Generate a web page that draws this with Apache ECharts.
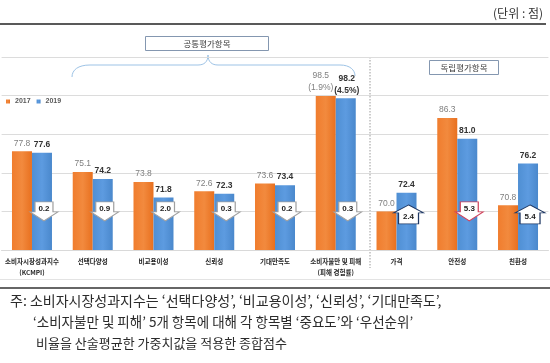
<!DOCTYPE html>
<html><head><meta charset="utf-8">
<script src="https://cdn.jsdelivr.net/npm/echarts@6/dist/echarts.min.js"></script>
<style>html,body{margin:0;padding:0;background:#fff}#c{width:550px;height:363px}</style>
</head><body><div id="c"></div>
<script>
// ---- data ----
const categories = ['소비자시장성과지수\n(KCMPI)', '선택다양성', '비교용이성', '신뢰성', '기대만족도', '소비자불만 및 피해\n(피해 경험률)', '가격', '안전성', '친환성'];
const seriesNames = ['2017', '2019'];
const values2017 = [77.8, 75.1, 73.8, 72.6, 73.6, 98.5, 70.0, 86.3, 70.8];
const values2019 = [77.6, 74.2, 71.8, 72.3, 73.4, 98.2, 72.4, 81.0, 76.2];
const damageRate2017 = [null, null, null, null, null, '1.9%', null, null, null];
const damageRate2019 = [null, null, null, null, null, '4.5%', null, null, null];
const changes = [0.2, 0.9, 2.0, 0.3, 0.2, 0.3, 2.4, 5.3, 5.4];
const directions = ['down', 'down', 'down', 'down', 'down', 'down', 'up', 'down', 'up'];
const groupTitles = ['공통평가항목', '독립평가항목'];
const unitText = '(단위 : 점)';
const noteLines = [
  '주: 소비자시장성과지수는 ‘선택다양성’, ‘비교용이성’, ‘신뢰성’, ‘기대만족도’,',
  '‘소비자불만 및 피해’ 5개 항목에 대해 각 항목별 ‘중요도’와 ‘우선순위’',
  '비율을 산술평균한 가중치값을 적용한 종합점수'
];

// ---- chart ----
const KR = '"Noto Sans CJK KR", sans-serif';
const NUM = '"Liberation Sans", Arial, sans-serif';
const chart = echarts.init(document.getElementById('c'), null, {renderer: 'canvas'});

const downPath = 'path://M5,0 L23,0 L23,10 L28,10 L14,19 L0,10 L5,10 Z';
const upPath = 'path://M15,0 L30,8 L25,8 L25,19 L5,19 L5,8 L0,8 Z';
const arrowBorder = (i) => directions[i] === 'up' ? '#1f3864' : (changes[i] >= 5 ? '#d0405a' : '#a0a0a0');

const arrowData = changes.map((c, i) => ({
  value: [i, 70, c],
  symbol: directions[i] === 'up' ? upPath : downPath,
  symbolSize: directions[i] === 'up' ? [30, 19] : [28, 19],
  symbolOffset: directions[i] === 'up' ? [12, 3] : [12, 0],
  itemStyle: {color: '#ffffff', opacity: 1, borderColor: arrowBorder(i), borderWidth: 1},
  label: {offset: directions[i] === 'up' ? [0, 2] : [0, -3]}
}));

const barData = (vals, rates, dx) => vals.map((v, i) => rates[i] ? {value: v, label: {offset: [dx, 0]}} : v);
const labelFmt = (rates) => (p) => rates[p.dataIndex] ? p.value.toFixed(1) + '\n(' + rates[p.dataIndex] + ')' : p.value.toFixed(1);

const braceStyle = {stroke: '#9dc3e6', fill: null, lineWidth: 1};
const option = {
  animation: false,
  backgroundColor: '#ffffff',
  legend: {
    data: seriesNames, left: 6, top: 98, icon: 'rect', itemWidth: 4, itemHeight: 4, itemGap: 6, padding: 0,
    textStyle: {fontSize: 7, fontWeight: 'bold', color: '#595959', fontFamily: NUM}
  },
  grid: {left: 1.6, right: 1.6, top: 57, bottom: 113, containLabel: false},
  xAxis: {
    type: 'category', data: categories,
    axisLine: {show: true, lineStyle: {color: '#d9d9d9'}},
    axisTick: {show: false},
    axisLabel: {interval: 0, margin: 6, fontSize: 6.5, fontWeight: 'bold', color: '#262626', lineHeight: 11, fontFamily: KR}
  },
  yAxis: [
    {
      type: 'value', min: 65, max: 103.55,
      axisLine: {show: false}, axisTick: {show: false}, axisLabel: {show: false}, splitLine: {show: false},
      breaks: [{start: 78, end: 86, gap: 3.8}, {start: 86.5, end: 97.5, gap: 1.65}],
      breakArea: {show: false}
    },
    {
      type: 'value', min: 65, max: 90, interval: 5, position: 'left',
      axisLine: {show: false}, axisTick: {show: false}, axisLabel: {show: false},
      splitLine: {show: true, lineStyle: {color: '#dcdcdc', width: 1}}
    }
  ],
  series: [
    {
      name: seriesNames[0], type: 'bar', data: barData(values2017, damageRate2017, -5), barWidth: 20, barGap: '0%', yAxisIndex: 0,
      itemStyle: {color: new echarts.graphic.LinearGradient(0, 0, 1, 0, [{offset: 0, color: '#f07d2e'}, {offset: 0.5, color: '#f28a3e'}, {offset: 1, color: '#e8701f'}])},
      label: {show: true, position: 'top', distance: 2, fontSize: 8.5, color: '#7f7f7f', fontFamily: NUM, lineHeight: 12,
        formatter: labelFmt(damageRate2017)}
    },
    {
      name: seriesNames[1], type: 'bar', data: barData(values2019, damageRate2019, 1), barWidth: 20, yAxisIndex: 0, z: 3,
      itemStyle: {color: new echarts.graphic.LinearGradient(0, 0, 1, 0, [{offset: 0, color: '#4f8fd3'}, {offset: 0.5, color: '#5d9be0'}, {offset: 1, color: '#4a88cc'}])},
      label: {show: true, position: 'top', distance: 2, fontSize: 8.5, fontWeight: 'bold', color: '#333333', fontFamily: NUM, lineHeight: 12,
        formatter: labelFmt(damageRate2019)}
    },
    {
      name: 'change', type: 'scatter', yAxisIndex: 1, z: 5, data: arrowData,
      label: {show: true, position: 'inside', fontSize: 8, fontWeight: 'bold', color: '#222', fontFamily: NUM,
        formatter: (p) => p.value[2].toFixed(1)}
    }
  ],
  graphic: [
    {type: 'text', x: 543, y: 13, style: {text: unitText, font: '12px ' + KR, fill: '#333', align: 'right', verticalAlign: 'middle'}},
    {type: 'line', shape: {x1: 0, y1: 24, x2: 546, y2: 24}, style: {stroke: '#222', lineWidth: 1.5}},
    {type: 'line', shape: {x1: 0, y1: 279.5, x2: 550, y2: 279.5}, style: {stroke: '#e3e3e3', lineWidth: 1}},
    {type: 'line', shape: {x1: 0, y1: 288, x2: 550, y2: 288}, style: {stroke: '#333', lineWidth: 1.5}},
    {type: 'line', shape: {x1: 370, y1: 57, x2: 370, y2: 268}, style: {stroke: '#9a9a9a', lineWidth: 1, lineDash: [1.5, 1.5]}},
    {type: 'bezierCurve', shape: {x1: 72, y1: 77, cpx1: 72, cpy1: 70, cpx2: 78, cpy2: 65, x2: 90, y2: 65}, style: braceStyle},
    {type: 'line', shape: {x1: 90, y1: 65, x2: 198, y2: 65}, style: braceStyle},
    {type: 'bezierCurve', shape: {x1: 198, y1: 65, cpx1: 204, cpy1: 65, cpx2: 208, cpy2: 62, x2: 208, y2: 55}, style: braceStyle},
    {type: 'bezierCurve', shape: {x1: 208, y1: 55, cpx1: 208, cpy1: 62, cpx2: 212, cpy2: 65, x2: 218, y2: 65}, style: braceStyle},
    {type: 'line', shape: {x1: 218, y1: 65, x2: 340, y2: 65}, style: braceStyle},
    {type: 'bezierCurve', shape: {x1: 340, y1: 65, cpx1: 350, cpy1: 65, cpx2: 355, cpy2: 70, x2: 355, y2: 76}, style: braceStyle},
    {type: 'rect', shape: {x: 145.5, y: 36.5, width: 123, height: 14}, style: {stroke: '#8497b0', fill: '#fff', lineWidth: 1}},
    {type: 'text', x: 207, y: 43.5, style: {text: groupTitles[0], font: '8.5px ' + KR, fill: '#404040', align: 'center', verticalAlign: 'middle'}},
    {type: 'rect', shape: {x: 429.5, y: 60.5, width: 69, height: 14}, style: {stroke: '#8497b0', fill: '#fff', lineWidth: 1}},
    {type: 'text', x: 464, y: 67.5, style: {text: groupTitles[1], font: '8.5px ' + KR, fill: '#404040', align: 'center', verticalAlign: 'middle'}},
    {type: 'text', x: 10, y: 301, style: {text: noteLines[0], font: '14px ' + KR, fill: '#2b2b2b', verticalAlign: 'middle'}},
    {type: 'text', x: 33, y: 322, style: {text: noteLines[1], font: '13.5px ' + KR, fill: '#2b2b2b', verticalAlign: 'middle'}},
    {type: 'text', x: 36, y: 343, style: {text: noteLines[2], font: '13px ' + KR, fill: '#2b2b2b', verticalAlign: 'middle'}}
  ]
};
chart.setOption(option);
</script></body></html>
